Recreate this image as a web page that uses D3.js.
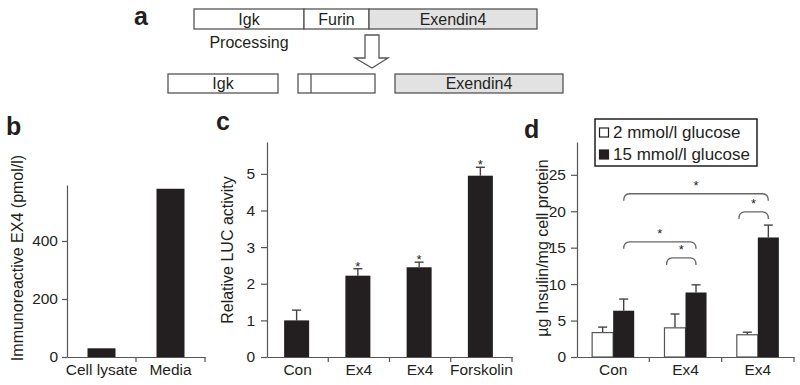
<!DOCTYPE html>
<html>
<head>
<meta charset="utf-8">
<script src="https://cdn.jsdelivr.net/npm/d3@7"></script>
<style>
body { margin: 0; background: #fff; }
svg { display: block; font-family: "Liberation Sans", Arial, sans-serif; }
.axis path, .axis line { stroke: #555; stroke-width: 1.2; }
.axis text { font-size: 15.5px; fill: #231f20; }
</style>
</head>
<body>
<svg id="fig" width="800" height="385"></svg>
<script>
// ---- panel b
var bLabels = ["Cell lysate", "Media"];
var bValues = [30, 580];
var bTicks = [0, 200, 400];

// ---- panel c
var cLabels = ["Con", "Ex4", "Ex4", "Forskolin"];
var cValues = [1.0, 2.22, 2.45, 4.95];
var cErrors = [0.28, 0.19, 0.14, 0.23];
var cStars = [false, true, true, true];
var cTicks = [0, 1, 2, 3, 4, 5];

// ---- panel d
var dLabels = ["Con", "Ex4", "Ex4"];
var dSeries = ["2 mmol/l glucose", "15 mmol/l glucose"];
var dLow = [3.35, 4.0, 3.05];
var dLowErr = [0.75, 1.9, 0.35];
var dHigh = [6.35, 8.85, 16.4];
var dHighErr = [1.6, 1.05, 1.7];
var dTicks = [0, 5, 10, 15, 20, 25];
// brackets: [group, series, group, series, level]
var dBrackets = [
    [0, 1, 2, 1, 22.4],
    [2, 0, 2, 1, 19.9],
    [0, 1, 1, 1, 15.8],
    [1, 0, 1, 1, 13.6]
];

var ink = "#231f20";
var svg = d3.select("#fig");

function panelLabel(txt, x, y) {
    svg.append("text").attr("x", x).attr("y", y)
        .attr("font-size", 25).attr("font-weight", "bold").attr("fill", ink)
        .text(txt);
}

function yTitle(txt, x, y) {
    svg.append("text")
        .attr("transform", "translate(" + x + "," + y + ") rotate(-90)")
        .attr("text-anchor", "middle").attr("dy", "0.35em")
        .attr("font-size", 16).attr("fill", ink)
        .text(txt);
}

function drawAxes(x, y, labels, ticks, tickSize, pad) {
    var y0 = y.range()[0];
    svg.append("g").attr("class", "axis")
        .attr("transform", "translate(" + x.range()[0] + ",0)")
        .call(d3.axisLeft(y).tickValues(ticks).tickFormat(d3.format("d"))
            .tickSize(tickSize).tickPadding(pad).tickSizeOuter(0));
    var gx = svg.append("g").attr("class", "axis")
        .attr("transform", "translate(0," + y0 + ")")
        .call(d3.axisBottom(x).tickSize(0).tickPadding(7).tickSizeOuter(0)
            .tickFormat(function(i) { return labels[i]; }));
    // ticks between categories
    gx.selectAll(".sep").data(x.domain()).enter().append("line")
        .attr("class", "sep")
        .attr("x1", function(i) { return x(i) + x.bandwidth(); })
        .attr("x2", function(i) { return x(i) + x.bandwidth(); })
        .attr("y1", 0).attr("y2", 5);
    svg.selectAll(".axis .domain").attr("stroke", "#555");
}

// ================= panel a (diagram)
(function() {
    var g = svg.append("g");
    function box(x, y, w, h, label, fill) {
        g.append("rect").attr("x", x).attr("y", y).attr("width", w).attr("height", h)
            .attr("fill", fill || "#fff").attr("stroke", "#555").attr("stroke-width", 1.3);
        if (label) {
            g.append("text").attr("x", x + w / 2).attr("y", y + h / 2 + 5.5)
                .attr("text-anchor", "middle").attr("font-size", 16).attr("fill", ink)
                .text(label);
        }
    }
    box(194, 9, 110, 20, "Igk");
    box(304, 9, 65, 20, "Furin");
    box(369, 9, 168, 20, "Exendin4", "#e2e2e2");

    g.append("text").attr("x", 249).attr("y", 48).attr("text-anchor", "middle")
        .attr("font-size", 16).attr("fill", ink).text("Processing");

    g.append("path")
        .attr("d", "M365,35 L379,35 L379,58 L388,58 L372,68 L355,58 L365,58 Z")
        .attr("fill", "#fff").attr("stroke", "#555").attr("stroke-width", 1.3);

    box(168, 74, 110, 19, "Igk");
    box(298, 74, 77, 19);
    g.append("line").attr("x1", 311).attr("x2", 311).attr("y1", 74).attr("y2", 93)
        .attr("stroke", "#555").attr("stroke-width", 1.3);
    box(395, 74, 168, 19, "Exendin4", "#e2e2e2");

    panelLabel("a", 134, 25);
})();

// ================= panel b
(function() {
    var x = d3.scaleBand().domain(d3.range(bLabels.length)).range([67, 205]);
    var y = d3.scaleLinear().domain([0, 593]).range([357, 185]);
    drawAxes(x, y, bLabels, bTicks, 5, 4);
    var bw = 28;
    svg.append("g").selectAll("rect").data(bValues).enter().append("rect")
        .attr("x", function(d, i) { return x(i) + x.bandwidth() / 2 - bw / 2; })
        .attr("width", bw)
        .attr("y", function(d) { return y(d); })
        .attr("height", function(d) { return y(0) - y(d); })
        .attr("fill", ink);
    yTitle("Immunoreactive EX4 (pmol/l)", 17, 258);
    panelLabel("b", 6, 135);
})();

// ================= panel c
(function() {
    var x = d3.scaleBand().domain(d3.range(cLabels.length)).range([267, 512]);
    var y = d3.scaleLinear().domain([0, 5.87]).range([357, 142]);
    drawAxes(x, y, cLabels, cTicks, 6, 6);
    var bw = 25;
    var g = svg.append("g");
    cValues.forEach(function(v, i) {
        var cx = x(i) + x.bandwidth() / 2 - 1;
        var top = y(v + cErrors[i]);
        g.append("line").attr("x1", cx).attr("x2", cx).attr("y1", y(v)).attr("y2", top)
            .attr("stroke", "#444").attr("stroke-width", 1.4);
        g.append("line").attr("x1", cx - 4.5).attr("x2", cx + 4.5).attr("y1", top).attr("y2", top)
            .attr("stroke", "#444").attr("stroke-width", 1.4);
        g.append("rect").attr("x", cx - bw / 2).attr("width", bw)
            .attr("y", y(v)).attr("height", y(0) - y(v)).attr("fill", ink);
        if (cStars[i]) {
            g.append("text").attr("x", cx).attr("y", top + 2).attr("text-anchor", "middle")
                .attr("font-size", 13).attr("fill", ink).text("*");
        }
    });
    yTitle("Relative LUC activity", 227, 250);
    panelLabel("c", 216, 130);
})();

// ================= panel d
(function() {
    var x0 = d3.scaleBand().domain(d3.range(dLabels.length)).range([577, 794]);
    var x1 = d3.scaleBand().domain([0, 1]).range([0, x0.bandwidth()]).paddingOuter(0.72);
    var y = d3.scaleLinear().domain([0, 29.5]).range([357, 142]);
    drawAxes(x0, y, dLabels, dTicks, 6, 5);
    var vals = [dLow, dHigh], errs = [dLowErr, dHighErr], fills = ["#fff", ink];
    var g = svg.append("g");
    dLabels.forEach(function(l, i) {
        [0, 1].forEach(function(s) {
            var v = vals[s][i];
            var bx = x0(i) + x1(s);
            var cx = bx + x1.bandwidth() / 2;
            var top = y(v + errs[s][i]);
            g.append("line").attr("x1", cx).attr("x2", cx).attr("y1", y(v)).attr("y2", top)
                .attr("stroke", "#444").attr("stroke-width", 1.4);
            g.append("line").attr("x1", cx - 4.5).attr("x2", cx + 4.5).attr("y1", top).attr("y2", top)
                .attr("stroke", "#444").attr("stroke-width", 1.4);
            g.append("rect").attr("x", bx).attr("width", x1.bandwidth())
                .attr("y", y(v)).attr("height", y(0) - y(v))
                .attr("fill", fills[s]).attr("stroke", s === 0 ? "#555" : "none")
                .attr("stroke-width", 1.2);
        });
    });
    // significance brackets
    function endX(gi, s) {
        return x0(gi) + x1(s) + x1.bandwidth() * (s === 0 ? 0.1 : 0.5);
    }
    dBrackets.forEach(function(b) {
        var xa = endX(b[0], b[1]), xb = endX(b[2], b[3]);
        var ty = y(b[4]), drop = 7, r = 6;
        g.append("path")
            .attr("d", "M" + xa + "," + (ty + drop) + " Q" + xa + "," + ty + " " + (xa + r) + "," + ty +
                " L" + (xb - r) + "," + ty + " Q" + xb + "," + ty + " " + xb + "," + (ty + drop))
            .attr("fill", "none").attr("stroke", "#666").attr("stroke-width", 1.3);
        g.append("text").attr("x", (xa + xb) / 2).attr("y", ty - 3.5).attr("text-anchor", "middle")
            .attr("font-size", 13).attr("fill", ink).text("*");
    });
    // legend
    var lg = svg.append("g");
    lg.append("rect").attr("x", 595).attr("y", 119).attr("width", 162).attr("height", 47)
        .attr("fill", "#fff").attr("stroke", ink).attr("stroke-width", 1.5);
    dSeries.forEach(function(name, s) {
        var yy = 128 + s * 22;
        lg.append("rect").attr("x", 599.5).attr("y", yy).attr("width", 9).attr("height", 9)
            .attr("fill", fills[s]).attr("stroke", ink).attr("stroke-width", 1.2);
        lg.append("text").attr("x", 613).attr("y", yy + 9.5).attr("font-size", 17)
            .attr("fill", ink).text(name);
    });
    yTitle("\u00b5g Insulin/mg cell protein", 542, 248);
    panelLabel("d", 524, 138);
})();
</script>
</body>
</html>
